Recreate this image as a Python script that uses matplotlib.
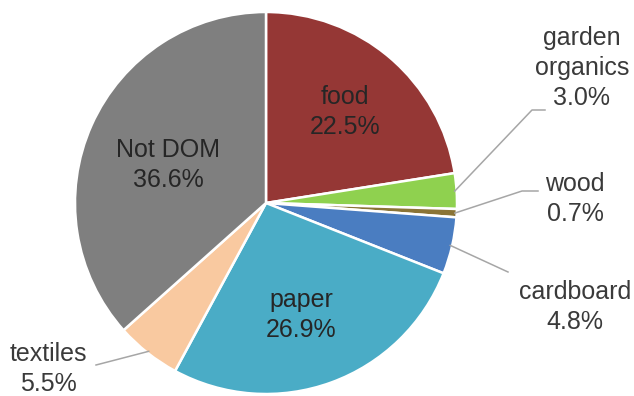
import numpy as np
import matplotlib.pyplot as plt

plt.rcParams['font.family'] = ['Liberation Sans', 'DejaVu Sans']

# composition of the waste stream (percent)
categories = ['food', 'garden\norganics', 'wood', 'cardboard', 'paper', 'textiles', 'Not DOM']
shares = [22.5, 3.0, 0.7, 4.8, 26.9, 5.5, 36.6]
colors = ['#953735', '#8fd14f', '#8a7436', '#4a7dc1', '#4aacc6', '#f9c9a0', '#7f7f7f']

W, H = 634, 396
cx, cy, r = 266, 203, 191


def flip(x, y):
    # pixel coords (origin top-left) -> axes data coords
    return x, H - y


fig = plt.figure(figsize=(W / 100, H / 100), dpi=100)
ax = fig.add_axes([0, 0, 1, 1])

wedges, _ = ax.pie(shares, colors=colors, startangle=90, counterclock=False,
                   center=flip(cx, cy), radius=r,
                   wedgeprops=dict(edgecolor='white', linewidth=1.8))

# pie() resets the limits, so fix them afterwards
ax.set_xlim(0, W)
ax.set_ylim(0, H)
ax.set_aspect('equal')
ax.axis('off')

labels = [f'{c}\n{s:.1f}%' for c, s in zip(categories, shares)]

# labels drawn inside the big slices
inside = {0: (345, 112), 6: (168, 165), 4: (301, 315)}
for i, (x, y) in inside.items():
    ax.text(*flip(x, y), labels[i], ha='center', va='center', fontsize=18,
            color='#262626', linespacing=1.3)

# outside labels with leader lines: (text pos, line elbow points)
outside = {
    1: ((582, 68), [(532, 110), (545, 110)]),
    2: ((575, 199), [(522, 191), (538, 191)]),
    3: ((575, 307), [(508, 272)]),
    5: ((48, 369), [(96, 365)]),
}
for i, ((tx, ty), pts) in outside.items():
    w = wedges[i]
    mid = np.deg2rad((w.theta1 + w.theta2) / 2)
    x0, y0 = flip(cx, cy)
    start = (x0 + r * 0.99 * np.cos(mid), y0 + r * 0.99 * np.sin(mid))
    xs = [start[0]] + [p[0] for p in pts]
    ys = [start[1]] + [H - p[1] for p in pts]
    ax.plot(xs, ys, color='#a6a6a6', lw=1.1)
    ax.text(*flip(tx, ty), labels[i], ha='center', va='center', fontsize=18,
            color='#3a3a3a', linespacing=1.3)

fig.savefig('out.png', dpi=100, facecolor='white')
